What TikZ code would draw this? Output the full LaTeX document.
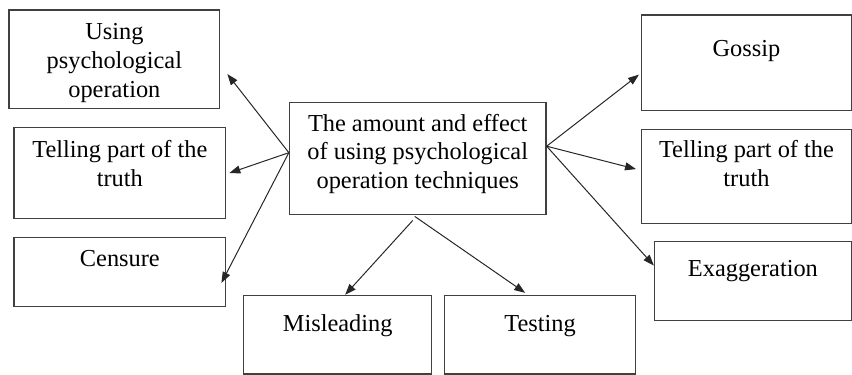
\documentclass[tikz,border=0pt]{standalone}
\usepackage{fontspec}
\setmainfont{Liberation Serif}
\usetikzlibrary{positioning}
\usetikzlibrary{arrows.meta}
\tikzset{
    box/.style = {rectangle, draw=black!75, line width=1.2pt, inner sep=0pt},
    txt/.style = {anchor=north, align=center, inner sep=0pt, font=\fontsize{24.5}{29}\selectfont},
    edgen/.style = {-{Triangle[length=11pt,width=8pt]}, line width=1pt, black!85}
}
\begin{document}
\begin{tikzpicture}[x=1pt,y=-1pt]
%
\node[box, minimum width=258pt, minimum height=113pt, label={[txt,yshift=-12pt]north:{The amount and effect\\of using psychological\\operation techniques}}] at (420,159.5) (cen) {};
%
\node[box, minimum width=212pt, minimum height=99pt, label={[txt,yshift=-14pt]north:{Using\\psychological\\operation}}] at (115,59.5) (psy) {};
\node[box, minimum width=213pt, minimum height=92pt, label={[txt,yshift=-14pt]north:{Telling part of the\\truth}}] at (120.5,174) (tell) {};
\node[box, minimum width=213pt, minimum height=69pt, label={[txt,yshift=-13pt]north:{Censure}}] at (120.5,273.5) (cens) {};
%
\node[box, minimum width=189pt, minimum height=79pt, label={[txt,yshift=-20pt]north:{Misleading}}] at (339.5,336.5) (mis) {};
\node[box, minimum width=192pt, minimum height=79pt, label={[txt,yshift=-20pt]north:{Testing}}] at (543,336.5) (tes) {};
%
\node[box, minimum width=211pt, minimum height=96pt, label={[txt,yshift=-26pt]north:{Gossip}}] at (750.5,63) (gos) {};
\node[box, minimum width=211pt, minimum height=95pt, label={[txt,yshift=-12pt]north:{Telling part of the\\truth}}] at (750.5,177.5) (telr) {};
\node[box, minimum width=198pt, minimum height=79pt, label={[txt,yshift=-19pt]north:{Exaggeration}}] at (757,282.5) (exa) {};
%
\draw[edgen] ([yshift=6pt]cen.west) -- ([xshift=7pt,yshift=-15pt]psy.east);
\draw[edgen] ([yshift=6pt]cen.west) -- ([xshift=3pt]tell.east);
\draw[edgen] ([yshift=6pt]cen.west) -- ([xshift=-5pt,yshift=-11pt]cens.east);
\draw[edgen] ([yshift=12.5pt]cen.east) -- ([xshift=-2pt,yshift=-12pt]gos.west);
\draw[edgen] ([yshift=12.5pt]cen.east) -- ([xshift=-5pt,yshift=7.5pt]telr.west);
\draw[edgen] ([yshift=12.5pt]cen.east) -- ([yshift=15.5pt]exa.west);
\draw[edgen] ([xshift=-5pt,yshift=-5pt]cen.south) -- ([xshift=7.5pt]mis.north);
\draw[edgen] ([xshift=-3pt,yshift=-1pt]cen.south) -- ([xshift=-15pt,yshift=2pt]tes.north);

\path[use as bounding box] (0,0) rectangle (852,377);

\end{tikzpicture}
\end{document}
